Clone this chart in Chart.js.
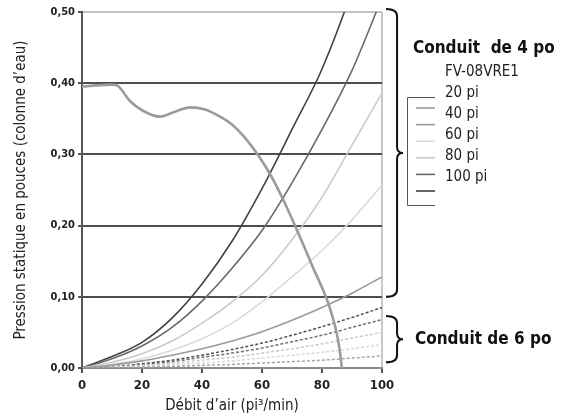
<!DOCTYPE html>
<html>
<head>
<meta charset="utf-8">
<script src="https://cdn.jsdelivr.net/npm/chart.js@4.4.1/dist/chart.umd.min.js"></script>
<style>
html, body { margin: 0; background: #fff; }
#wrap { width: 564px; height: 416px; position: relative; }
</style>
</head>
<body>
<div id="wrap"><canvas id="chart"></canvas></div>
<script>
// airflow (pi3/min) sample points for the duct curves
const airflow = [0, 10, 20, 30, 40, 50, 60, 70, 80, 90, 100]

// 4 po duct, static pressure per duct length
const duct4_20 = [0, 0.004, 0.010, 0.018, 0.027, 0.038, 0.051, 0.067, 0.085, 0.105, 0.128]
const duct4_40 = [0, 0.005, 0.013, 0.025, 0.041, 0.063, 0.093, 0.128, 0.165, 0.208, 0.257]
const duct4_60 = [0, 0.008, 0.020, 0.038, 0.063, 0.093, 0.130, 0.180, 0.240, 0.313, 0.386]
const duct4_80 = [0, 0.013, 0.031, 0.057, 0.094, 0.140, 0.193, 0.260, 0.335, 0.418, 0.520]
const duct4_100 = [0, 0.016, 0.036, 0.070, 0.118, 0.178, 0.252, 0.335, 0.420, 0.530, 0.660]

// 6 po duct
const duct6_20 = [0, 0.0003, 0.0012, 0.0022, 0.0036, 0.005, 0.007, 0.009, 0.011, 0.014, 0.017]
const duct6_40 = [0, 0.0006, 0.0023, 0.0043, 0.007, 0.010, 0.014, 0.018, 0.022, 0.027, 0.033]
const duct6_60 = [0, 0.001, 0.0035, 0.0065, 0.011, 0.015, 0.021, 0.027, 0.034, 0.042, 0.050]
const duct6_80 = [0, 0.0012, 0.005, 0.009, 0.015, 0.021, 0.028, 0.037, 0.046, 0.057, 0.068]
const duct6_100 = [0, 0.0015, 0.006, 0.011, 0.018, 0.026, 0.035, 0.046, 0.058, 0.071, 0.085]

// fan curve FV-08VRE1
const fanFlow = [0, 5, 10, 12, 16, 20, 26, 31, 36, 41, 46, 50, 54, 59, 63, 67, 71, 74, 77, 80, 82, 83.5, 85, 86, 86.6]
const fanPressure = [0.395, 0.397, 0.398, 0.396, 0.375, 0.362, 0.353, 0.360, 0.366, 0.363, 0.353, 0.342, 0.325, 0.297, 0.270, 0.237, 0.200, 0.171, 0.141, 0.113, 0.092, 0.072, 0.047, 0.022, 0]

const lengths = ['20 pi', '40 pi', '60 pi', '80 pi', '100 pi']
const fanName = 'FV-08VRE1'
const xTicks = [0, 20, 40, 60, 80, 100]
const yTicks = [0, 0.1, 0.2, 0.3, 0.4, 0.5]

const narrow = "'Liberation Sans Narrow', 'DejaVu Sans Condensed', 'Arial Narrow', sans-serif"

const pts = (xs, ys) => xs.map((x, i) => ({x: x, y: ys[i]}))

const duct4 = [duct4_20, duct4_40, duct4_60, duct4_80, duct4_100]
const duct6 = [duct6_20, duct6_40, duct6_60, duct6_80, duct6_100]
const col4 = ['#9a9a9a', '#dadada', '#cacaca', '#6a6a6a', '#434343']
const col6 = ['#a5a5a5', '#d8d8d8', '#c8c8c8', '#707070', '#505050']

let datasets = [{
    label: fanName,
    data: pts(fanFlow, fanPressure),
    borderColor: '#9b9b9b',
    borderWidth: 2.6
}]
duct4.forEach((d, i) => datasets.push({
    label: lengths[i],
    data: pts(airflow, d),
    borderColor: col4[i],
    borderWidth: 1.6
}))
duct6.forEach((d, i) => datasets.push({
    label: '6 po ' + lengths[i],
    data: pts(airflow, d),
    borderColor: col6[i],
    borderWidth: 1.5,
    borderDash: [3, 2]
}))

function drawBrace(ctx, x, top, bottom, w) {
    const mid = (top + bottom) / 2
    const vx = x + w * 0.65
    ctx.beginPath()
    ctx.moveTo(x, top)
    ctx.quadraticCurveTo(vx, top, vx, top + 7)
    ctx.lineTo(vx, mid - 6)
    ctx.quadraticCurveTo(vx, mid, x + w, mid)
    ctx.quadraticCurveTo(vx, mid, vx, mid + 6)
    ctx.lineTo(vx, bottom - 7)
    ctx.quadraticCurveTo(vx, bottom, x, bottom)
    ctx.stroke()
}

// braces, legend and duct captions on the right side
const sidePlugin = {
    id: 'side',
    afterDraw(chart) {
        const {ctx, chartArea, scales} = chart
        const ys = scales.y
        const x0 = chartArea.right
        ctx.save()
        ctx.strokeStyle = '#111'
        ctx.lineWidth = 2
        drawBrace(ctx, x0 + 4, ys.getPixelForValue(0.5) - 3, ys.getPixelForValue(0.1), 17)
        drawBrace(ctx, x0 + 4, ys.getPixelForValue(0.073), ys.getPixelForValue(0.008), 17)

        // bracket holding the legend samples
        ctx.strokeStyle = '#555'
        ctx.lineWidth = 1
        ctx.beginPath()
        ctx.moveTo(x0 + 53, 97.5)
        ctx.lineTo(x0 + 25.5, 97.5)
        ctx.lineTo(x0 + 25.5, 205.5)
        ctx.lineTo(x0 + 53, 205.5)
        ctx.stroke()

        ctx.fillStyle = '#111'
        ctx.textBaseline = 'middle'
        ctx.font = 'bold 17px ' + narrow
        ctx.fillText('Conduit  de 4 po', x0 + 31, 49)
        ctx.fillText('Conduit de 6 po', x0 + 33, 340)

        ctx.font = '15px ' + narrow
        ctx.fillStyle = '#222'
        for (let i = 0; i < 6; i++) {
            const ds = chart.data.datasets[i]
            ctx.fillText(ds.label, x0 + 63, 72 + i * 21)
            ctx.strokeStyle = ds.borderColor
            ctx.lineWidth = 1.6
            ctx.beginPath()
            ctx.moveTo(x0 + 34, 108 + i * 16.6)
            ctx.lineTo(x0 + 53, 108 + i * 16.6)
            ctx.stroke()
        }
        ctx.restore()
    }
}

new Chart(document.getElementById('chart'), {
    type: 'line',
    data: { datasets: datasets },
    options: {
        responsive: true,
        maintainAspectRatio: false,
        animation: false,
        layout: { padding: { top: 12, right: 182, left: 0, bottom: 0 } },
        elements: {
            point: { radius: 0 },
            line: { cubicInterpolationMode: 'monotone', fill: false }
        },
        plugins: {
            legend: { display: false },
            tooltip: { enabled: false }
        },
        scales: {
            x: {
                type: 'linear',
                min: 0, max: 100,
                afterBuildTicks: s => { s.ticks = xTicks.map(v => ({value: v})) },
                afterFit: s => { s.height = 48 },
                grid: {
                    color: c => c.tick && c.tick.value === 100 ? '#c8c8c8' : 'rgba(0,0,0,0)',
                    tickColor: '#555',
                    lineWidth: 2,
                    tickLength: 5
                },
                border: { color: '#8a8a8a', width: 2 },
                ticks: {
                    color: '#222',
                    padding: 5,
                    font: { family: narrow, size: 13, weight: 'bold' }
                },
                title: {
                    display: true,
                    text: 'Débit d\u2019air (pi\u00b3/min)',
                    color: '#222',
                    padding: { top: 0, bottom: 1 },
                    font: { family: narrow, size: 15 }
                }
            },
            y: {
                min: 0, max: 0.5,
                afterBuildTicks: s => { s.ticks = yTicks.map(v => ({value: v})) },
                afterFit: s => { s.width = 82 },
                grid: {
                    color: c => {
                        const v = c.tick ? c.tick.value : 0
                        if (v === 0) return 'rgba(0,0,0,0)'
                        return v >= 0.5 ? '#c4c4c4' : '#4e4e4e'
                    },
                    tickColor: '#555',
                    lineWidth: 2,
                    tickLength: 4
                },
                border: { color: '#555', width: 2 },
                ticks: {
                    color: '#222',
                    padding: 3,
                    font: { family: narrow, size: 11, weight: 'bold' },
                    callback: v => v.toFixed(2).replace('.', ',')
                },
                title: {
                    display: true,
                    text: 'Pression statique en pouces (colonne d\u2019eau)',
                    color: '#222',
                    padding: { top: 12, bottom: 0 },
                    font: { family: narrow, size: 15 }
                }
            }
        }
    },
    plugins: [sidePlugin]
})
</script>
</body>
</html>
